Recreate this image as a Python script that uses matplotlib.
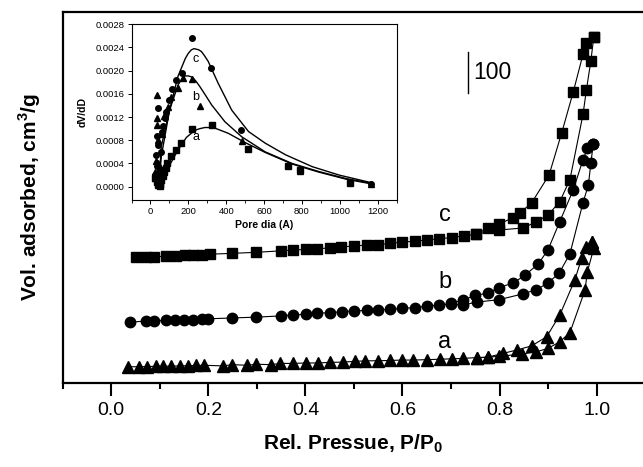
import matplotlib
matplotlib.use('Agg')
import matplotlib.pyplot as plt
from matplotlib.ticker import MultipleLocator, FormatStrFormatter

plt.rcParams['font.family'] = ['Liberation Sans', 'DejaVu Sans']
plt.rcParams['mathtext.fontset'] = 'custom'
plt.rcParams['mathtext.rm'] = 'Liberation Sans'
plt.rcParams['mathtext.bf'] = 'Liberation Sans:bold'

# ---------------- main isotherms (offset, cm3/g) ----------------
a_ads_p = [0.034, 0.058, 0.073, 0.093, 0.106, 0.124, 0.141, 0.158, 0.175, 0.192, 0.230, 0.249,
           0.280, 0.299, 0.330, 0.348, 0.374, 0.402, 0.426, 0.450, 0.477, 0.502, 0.522, 0.550,
           0.574, 0.598, 0.622, 0.650, 0.677, 0.701, 0.725, 0.753, 0.776, 0.799, 0.847, 0.876,
           0.900, 0.924, 0.945, 0.976, 0.981, 0.994, 0.991]
a_ads_v = [39, 39, 39.5, 40, 40, 40.5, 41, 41.5, 42, 42.5, 41, 44,
           42.5, 45, 44, 47, 47, 48, 48, 49.5, 50, 52, 53, 53.5,
           54, 55, 55, 56, 57, 58, 59, 61, 62, 64, 69.5, 75,
           83, 99, 121, 223, 267, 323, 339]
a_des_p = [0.991, 0.979, 0.969, 0.955, 0.924, 0.897, 0.866, 0.835, 0.807, 0.776, 0.753]
a_des_v = [339, 327, 299, 247, 163, 111, 89, 79, 71, 62, 60]

b_ads_p = [0.038, 0.071, 0.089, 0.112, 0.131, 0.149, 0.168, 0.186, 0.199, 0.249, 0.299, 0.350,
           0.374, 0.401, 0.424, 0.450, 0.476, 0.500, 0.526, 0.550, 0.575, 0.600, 0.625, 0.650,
           0.675, 0.699, 0.724, 0.753, 0.799, 0.849, 0.876, 0.900, 0.923, 0.945, 0.972, 0.983,
           0.988, 0.993]
b_ads_v = [146, 148.5, 149, 150, 150.5, 151, 152, 153, 154, 156, 158, 161,
           163, 165, 167, 169, 171, 173, 174, 175, 177, 179, 181, 184,
           187, 189, 187, 194, 200, 214, 224, 240, 264, 310, 433, 475,
           527, 573]
b_des_p = [0.993, 0.981, 0.972, 0.952, 0.924, 0.900, 0.880, 0.852, 0.828, 0.799, 0.777, 0.750, 0.724, 0.700]
b_des_v = [573, 563, 536, 464, 387, 320, 286, 258, 240, 229, 216, 210, 199, 191]

c_ads_p = [0.050, 0.071, 0.088, 0.112, 0.133, 0.151, 0.168, 0.186, 0.203, 0.249, 0.299, 0.349,
           0.374, 0.402, 0.424, 0.450, 0.474, 0.500, 0.526, 0.550, 0.575, 0.600, 0.625, 0.650,
           0.675, 0.701, 0.726, 0.751, 0.799, 0.849, 0.876, 0.900, 0.924, 0.945, 0.972, 0.979,
           0.988, 0.994]
c_ads_v = [302, 302.5, 303, 304, 305, 306, 307, 308, 309, 311, 313.5, 317,
           319, 320.5, 322, 324, 326.5, 328.5, 331, 331.5, 335, 338, 340, 343,
           346, 349, 352.5, 357, 367, 372, 387, 403, 435, 488, 645, 704,
           772, 829]
c_des_p = [0.994, 0.979, 0.972, 0.952, 0.928, 0.902, 0.866, 0.842, 0.828, 0.799, 0.776, 0.751]
c_des_v = [829, 816, 789, 699, 600, 499, 432, 408, 397, 381, 371, 357]

curve_labels = ['a', 'b', 'c']
curve_label_pos = [(0.687, 99), (0.687, 243), (0.687, 403)]

# ---------------- inset: pore size distribution ----------------
ia_x = [25, 35, 42, 48, 52, 58, 64, 72, 80, 90, 110, 133, 163, 222, 326, 514, 727, 789, 1053]
ia_y = [0.00015, 0.00008, 0.00003, 0.00001, 0.00005, 0.00012, 0.00018, 0.00025, 0.00033, 0.0004,
        0.00053, 0.00063, 0.00076, 0.0010, 0.00106, 0.00065, 0.00036, 0.00028, 0.00006]
ib_x = [22, 25, 30, 32, 35, 35, 38, 42, 46, 50, 55, 62, 74, 92, 110, 145, 172, 220, 261, 482, 789, 1165]
ib_y = [0.00015, 0.00025, 0.00045, 0.00106, 0.00118, 0.00158, 0.0008, 0.0004, 0.0002, 0.00008,
        0.00012, 0.0009, 0.00121, 0.00138, 0.00155, 0.00171, 0.00188, 0.00186, 0.00139, 0.00078,
        0.00027, 0.00005]
ic_x = [25, 28, 32, 35, 38, 40, 44, 48, 52, 56, 62, 68, 75, 83, 96, 113, 133, 167, 222, 319, 479, 1165]
ic_y = [0.0002, 0.00055, 0.00036, 0.00087, 0.00135, 0.00072, 0.00025, 0.00005, 0.0003, 0.0006,
        0.00095, 0.00105, 0.00118, 0.00128, 0.0015, 0.00168, 0.00184, 0.00196, 0.00256, 0.00205,
        0.00098, 0.00005]

fa_x = [45, 57, 101, 145, 190, 234, 260, 287, 315, 340, 411, 500, 606, 748, 890, 1032, 1164]
fa_y = [0.0, 0.000115, 0.00037, 0.00063, 0.00085, 0.00097, 0.0010, 0.00102, 0.00102, 0.00101,
        0.00092, 0.00076, 0.00059, 0.00039, 0.00025, 0.00013, 0.00005]
fb_x = [45, 57, 101, 145, 170, 184, 200, 220, 240, 260, 290, 323, 393, 482, 606, 748, 890, 1032, 1164]
fb_y = [0.0, 0.00069, 0.00132, 0.00175, 0.00188, 0.00191, 0.00191, 0.00189, 0.00182, 0.00173,
        0.00158, 0.00141, 0.00112, 0.00086, 0.0006, 0.0004, 0.00026, 0.00014, 0.00006]
fc_x = [45, 57, 101, 145, 184, 200, 216, 230, 243, 255, 269, 285, 305, 330, 358, 429, 518, 606,
        713, 854, 996, 1164]
fc_y = [0.0, 0.00052, 0.00132, 0.0019, 0.00221, 0.0023, 0.00236, 0.00238, 0.00237, 0.00236,
        0.00233, 0.00226, 0.00216, 0.00198, 0.00178, 0.00132, 0.00095, 0.00075, 0.00055, 0.000345,
        0.0002, 0.00007]
inset_label_pos = [(243, 0.00086), (239, 0.00155), (239, 0.0022)]

W, H = 643, 467
fig = plt.figure(figsize=(W / 100, H / 100), dpi=100)

ax = fig.add_axes([62.7 / W, (H - 383) / H, (W - 62.7) / W, 371 / H])
ax.set_xlim(-0.1, 1.0955)
ax.set_ylim(0, 890)

lk = dict(color='black', lw=0.8, markeredgecolor='black', markerfacecolor='black')
ax.plot(a_ads_p, a_ads_v, marker='^', ms=8, **lk)
ax.plot(a_des_p, a_des_v, marker='^', ms=8, **lk)
ax.plot(b_ads_p, b_ads_v, marker='o', ms=7.5, **lk)
ax.plot(b_des_p, b_des_v, marker='o', ms=7.5, **lk)
ax.plot(c_ads_p, c_ads_v, marker='s', ms=7, **lk)
ax.plot(c_des_p, c_des_v, marker='s', ms=7, **lk)

for lab, (px, py) in zip(curve_labels, curve_label_pos):
    ax.text(px, py, lab, fontsize=17, ha='center', va='center')

# scale bar "100"
ax.plot([0.7347, 0.7347], [694.5, 794.5], color='black', lw=1.0)
ax.text(0.745, 744.5, '100', fontsize=16.5, ha='left', va='center')

for s in ['left', 'top', 'bottom']:
    ax.spines[s].set_linewidth(1.6)
ax.spines['right'].set_visible(False)
ax.tick_params(axis='y', left=False, labelleft=False)
ax.xaxis.set_major_locator(MultipleLocator(0.2))
ax.xaxis.set_minor_locator(MultipleLocator(0.1))
ax.xaxis.set_major_formatter(FormatStrFormatter('%.1f'))
ax.tick_params(axis='x', which='major', direction='out', length=9, width=1.5, labelsize=14, pad=5)
ax.tick_params(axis='x', which='minor', direction='out', length=4.5, width=1.5)
ax.set_xlabel(r'Rel. Pressue, P/P$_{\mathbf{0}}$', fontsize=15, fontweight='bold', labelpad=9)
ax.set_ylabel(r'Vol. adsorbed, cm$^{\mathbf{3}}$/g', fontsize=15, fontweight='bold', labelpad=14)

# ---------------- inset ----------------
ins = fig.add_axes([131.5 / W, (H - 200) / H, 265.2 / W, 175.7 / H])
ins.set_xlim(-100, 1300)
ins.set_ylim(-0.00023, 0.0028)
ins.plot(fa_x, fa_y, color='black', lw=1.0)
ins.plot(fb_x, fb_y, color='black', lw=1.0)
ins.plot(fc_x, fc_y, color='black', lw=1.0)
ins.plot(ia_x, ia_y, 's', color='black', ms=3.8)
ins.plot(ib_x, ib_y, '^', color='black', ms=4.2)
ins.plot(ic_x, ic_y, 'o', color='black', ms=4.0)
for lab, (px, py) in zip(curve_labels, inset_label_pos):
    ins.text(px, py, lab, fontsize=9, ha='center', va='center')

for s in ins.spines.values():
    s.set_linewidth(0.8)
ins.xaxis.set_major_locator(MultipleLocator(200))
ins.xaxis.set_minor_locator(MultipleLocator(100))
ins.yaxis.set_major_locator(MultipleLocator(0.0004))
ins.yaxis.set_major_formatter(FormatStrFormatter('%.4f'))
ins.tick_params(which='major', direction='out', length=3, width=0.7, labelsize=6.8, pad=2)
ins.tick_params(which='minor', direction='out', length=2, width=0.6)
ins.set_xlabel('Pore dia (A)', fontsize=7.5, fontweight='bold', labelpad=3)
ins.set_ylabel('dV/dD', fontsize=7.5, fontweight='bold', labelpad=6)

fig.savefig('out.png', dpi=100)
